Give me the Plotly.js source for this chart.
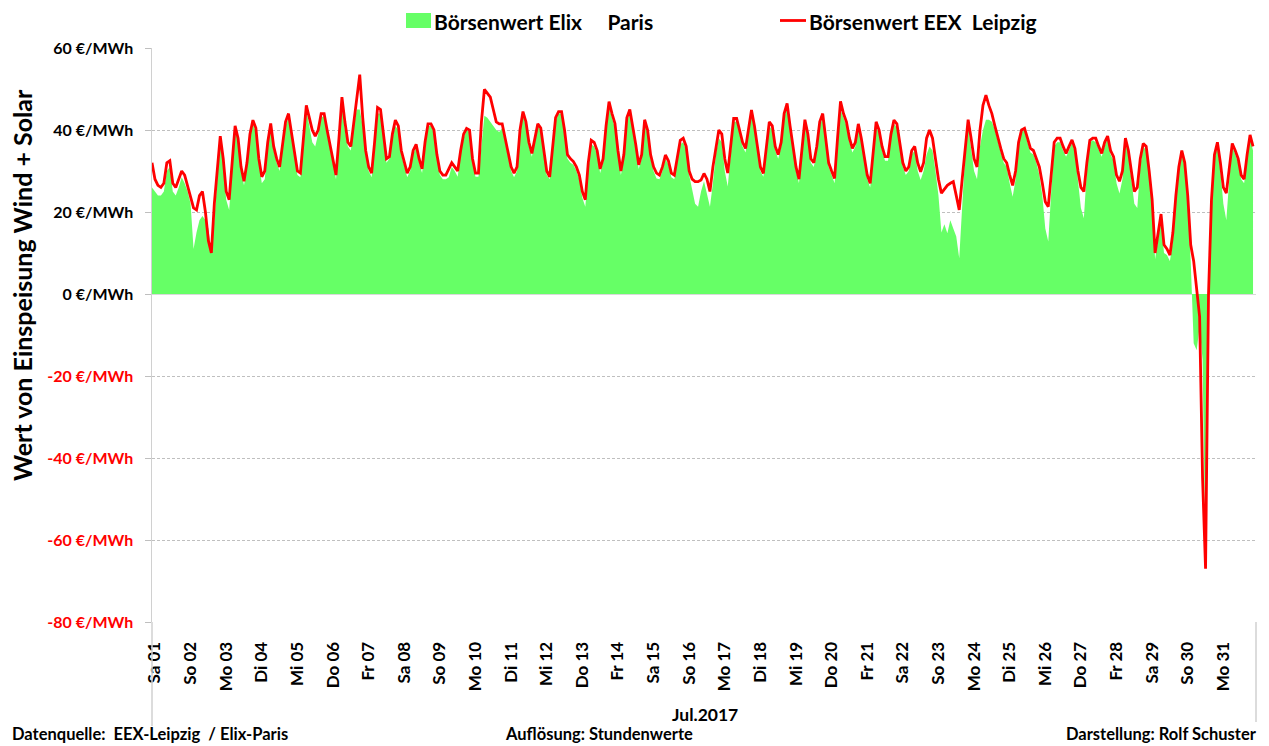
<!DOCTYPE html>
<html>
<head>
<meta charset="utf-8">
<script src="https://cdn.plot.ly/plotly-3.0.1.min.js"></script>
<style>
  html, body { margin: 0; padding: 0; background: #ffffff; }
  #chart { width: 1269px; height: 746px; }
</style>
</head>
<body>
<div id="chart"></div>
<script>
// ---- Data: July 2017, values every 2 hours (12 per day), EUR/MWh ----
const dayLabels = ['Sa 01','So 02','Mo 03','Di 04','Mi 05','Do 06','Fr 07','Sa 08','So 09','Mo 10',
  'Di 11','Mi 12','Do 13','Fr 14','Sa 15','So 16','Mo 17','Di 18','Mi 19','Do 20','Fr 21','Sa 22',
  'So 23','Mo 24','Di 25','Mi 26','Do 27','Fr 28','Sa 29','So 30','Mo 31'];

const hoursPerStep = 2;

// Börsenwert EEX Leipzig (red line)
const leipzig = [
  32, 28, 26.5, 26, 27, 32, 32.5, 27, 26, 28, 30, 29,
  26.5, 23.5, 21, 20.5, 24, 25, 20, 13, 10, 22, 30, 38.5,
  33, 25, 23, 33, 41, 38, 31, 27.5, 32, 39, 42.4, 40.5,
  33, 28.6, 30, 37, 41.6, 36, 33, 31, 36, 42, 44, 39,
  34, 30, 29.5, 38, 46, 43, 40, 38.5, 40, 44, 44, 40,
  36, 32, 29, 38, 48, 42, 37, 36, 42, 47, 53.5, 43,
  35, 31, 29.5, 37, 45.5, 45, 39, 33, 33.5, 39, 42.4, 41,
  35, 32, 29.5, 31, 35, 36.5, 33, 30.5, 37, 41.5, 41.5, 40,
  34, 30, 29, 29, 30.5, 32, 31, 30, 35, 39, 40.4, 40,
  33, 29.5, 29.5, 42, 49.9, 49, 48, 45, 42, 41.5, 41.5, 38,
  34, 31, 29.5, 31, 40, 44.5, 42, 37, 34.3, 38, 41.5, 40.5,
  35, 30, 28.6, 35, 43, 44.5, 44.5, 40, 34, 33, 32.3, 31,
  29, 25, 23, 32, 37.5, 37, 35, 30.5, 33, 41, 46.9, 44,
  41.6, 35, 30, 34, 43, 45, 41, 36.5, 31.5, 34, 42.5, 40,
  34, 31, 29.5, 29, 31, 33.9, 32.5, 29.5, 29, 33, 37.5, 38,
  36, 30, 28, 27.4, 27.4, 27.8, 29.4, 28, 25, 31, 36, 40,
  39, 33, 29.5, 36, 42.8, 42.8, 40, 37, 35.5, 40, 44.9, 41,
  36, 31, 29.4, 35, 42, 41, 36, 34, 37, 44, 46.5, 41,
  36, 31, 28, 35, 42.5, 39, 33, 32, 36, 42, 44, 38,
  32, 30, 28.2, 38, 47, 44, 42, 38, 35.5, 37, 41.5, 38,
  33, 29, 27, 35, 42, 40, 36, 33.5, 33.5, 39, 42.4, 41.5,
  37, 32, 30, 31, 35, 36, 32, 29.8, 32, 38, 40, 38,
  33, 28, 24.6, 25.5, 26.5, 27, 27.4, 24, 20.5, 28, 36, 42.5,
  38, 33, 31, 40, 46, 48.5, 46, 44, 41, 38, 35.5, 33,
  32, 29, 26.5, 30, 37, 40, 40.4, 38, 35.5, 35, 33, 31,
  27, 22.5, 21.3, 29, 37, 38, 38, 36, 34.3, 36, 37.6, 35.5,
  30, 26, 25, 32, 37.5, 38, 38, 36, 34.3, 37, 38.5, 35,
  33.5, 29, 27.5, 30, 38, 35, 30, 25, 26, 33, 36.7, 36,
  30, 23, 10, 15, 19.5, 12, 11, 9.5, 15, 24, 31, 35,
  32, 24, 12, 8, 2, -5.5, -45, -67, 0, 23, 34, 37,
  32, 26, 24.6, 31, 36.7, 35, 33, 29, 28, 34, 38.8, 36
];

// Börsenwert Elix Paris (green area)
const paris = [
  26, 25, 24, 24, 25, 30, 31, 25, 24, 26, 28.5, 27,
  25, 22, 11, 15, 18, 19, 18, 16, 10, 18, 29, 38,
  32, 23, 20.5, 31, 40.5, 37, 30, 26.5, 31, 38, 41.5, 39.5,
  32, 27, 28, 36, 41, 35, 32, 30, 35, 41, 43, 38,
  33, 29, 28.5, 36, 45, 41, 37, 36, 39, 43, 43.5, 39,
  35, 31, 28, 36, 46, 40, 36, 35, 41, 45, 45, 41,
  34, 30, 28.5, 35, 44, 44, 38, 32, 33, 38, 41, 40,
  34, 31, 28.5, 30, 34, 36, 32, 29.5, 36, 41, 41, 39.5,
  33, 29, 28, 28, 28.5, 31, 30, 28.6, 34, 38, 40, 39.5,
  32, 28.6, 28.6, 37, 43.5, 43, 42, 41, 40, 39.5, 40.5, 37,
  33, 30, 28.5, 30, 39, 43.5, 41, 36, 33.5, 37, 41, 40,
  34, 29, 28, 34, 42, 44, 44, 39, 33, 32, 31.5, 30,
  28, 23.5, 21.3, 30, 36.5, 36, 34, 29.5, 32, 40, 45.5, 43,
  40.5, 34, 29, 33, 42, 44, 40, 35.5, 30.5, 33, 41.5, 39,
  33, 30, 28.2, 28, 30, 33, 31.5, 28.5, 28, 32, 36.5, 37,
  35, 29, 25, 22, 21.3, 25, 27.5, 24, 21.3, 27, 34, 38,
  37, 30, 26.2, 34, 42, 42, 39, 36, 34.5, 39, 44, 40,
  35, 30, 28.6, 34, 41, 40, 35, 33, 36, 43, 45.5, 40,
  35, 30, 27, 34, 41.5, 38, 32, 31, 35, 41, 43, 37,
  31, 29, 27, 36, 45, 43, 41, 37, 34.5, 36, 40.5, 37,
  32, 28, 26, 34, 41, 39, 35, 32.5, 32.5, 38, 41.5, 40.5,
  36, 31, 29, 30, 34, 35, 30, 27.8, 30, 34, 36, 35,
  30, 24, 15, 17, 14.8, 18, 16, 14, 8.7, 20, 34, 41,
  36, 30, 28, 36, 40, 42.5, 42.5, 42, 40, 37, 34.5, 32,
  31, 27, 23.7, 28, 36, 39.5, 40, 37, 34.5, 34, 32, 29,
  24, 16, 12.8, 25, 36, 37, 37, 35, 33.5, 35, 37, 34.5,
  27, 21, 18.5, 30, 37, 37.5, 37, 35, 33.5, 36, 38, 34,
  32.5, 27, 24.5, 28, 37, 34, 28, 22, 21, 31, 36, 35,
  29, 21, 8.5, 13, 18, 10, 9.5, 8, 13, 22, 30, 34,
  31, 22, 8, -12, -13.7, -8, -16, -67, -5, 20, 33, 36,
  30, 22, 18, 28, 36, 34, 32, 28, 27, 33, 38, 35
];

const yTickVals = [60, 40, 20, 0, -20, -40, -60, -80];
const yTickLabels = ['60 €/MWh', '40 €/MWh', '20 €/MWh', '0 €/MWh', '-20 €/MWh', '-40 €/MWh', '-60 €/MWh', '-80 €/MWh'];

const seriesNames = ['Börsenwert Elix\u00a0\u00a0\u00a0\u00a0 Paris', 'Börsenwert EEX\u00a0 Leipzig'];
const footerTexts = ['Datenquelle:\u00a0 EEX-Leipzig\u00a0 / Elix-Paris', 'Auflösung: Stundenwerte', 'Darstellung: Rolf Schuster'];
const monthLabel = 'Jul.2017';
const yTitle = 'Wert von Einspeisung Wind + Solar';

// ---- Build ----
const hours = leipzig.map((_, i) => i * hoursPerStep);
const hoursParis = paris.map((_, i) => i * hoursPerStep);
const tickPos = dayLabels.map((_, d) => d * 24 + 2);
const yTickText = yTickVals.map((v, i) => v < 0 ? '<span style="color:#ff0000">' + yTickLabels[i] + '</span>' : yTickLabels[i]);

const W = 1269, H = 746;
const L = 152, R = 1256, T = 48, B = 622;
const px = p => (p - L) / (R - L);
const py = p => (B - p) / (B - T);

const FONT = 'Lato, "Open Sans", "DejaVu Sans", sans-serif';
const GREEN = '#66ff66';
const RED = '#ff0000';
const GRID = '#bfbfbf';

const traces = [
  {
    type: 'scatter', mode: 'lines', name: seriesNames[0],
    x: hoursParis, y: paris,
    fill: 'tozeroy', fillcolor: GREEN,
    line: { width: 0, color: 'rgba(0,0,0,0)' },
    showlegend: false, hoverinfo: 'skip'
  },
  {
    type: 'scatter', mode: 'lines', name: seriesNames[1],
    x: hours, y: leipzig,
    line: { width: 2.8, color: RED },
    showlegend: false, hoverinfo: 'skip'
  }
];

const layout = {
  width: W, height: H,
  margin: { l: L, r: W - R, t: T, b: H - B },
  paper_bgcolor: '#ffffff', plot_bgcolor: '#ffffff',
  font: { family: FONT, color: '#000000' },
  showlegend: false,
  xaxis: {
    range: [0, 744],
    tickmode: 'array', tickvals: tickPos, ticktext: dayLabels,
    tickangle: -90,
    tickfont: { family: FONT, size: 17, weight: 'bold', color: '#000000' },
    ticks: 'outside', ticklen: 12, tickcolor: 'rgba(0,0,0,0)',
    showgrid: false, zeroline: false, showline: false,
    fixedrange: true
  },
  yaxis: {
    range: [-80, 60],
    tickmode: 'array', tickvals: yTickVals, ticktext: yTickText,
    tickfont: { family: FONT, size: 16, weight: 'bold', color: '#000000' },
    ticks: 'outside', ticklen: 6, tickcolor: GRID, tickwidth: 1,
    ticklabelstandoff: 8,
    showgrid: true, gridcolor: GRID, griddash: '3px,2px', gridwidth: 1,
    zeroline: true, zerolinecolor: '#d9d9d9', zerolinewidth: 1,
    showline: true, linecolor: '#d0d0d0', linewidth: 1.5,
    fixedrange: true
  },
  shapes: [
    // category boundary lines below plot
    { type: 'line', xref: 'paper', yref: 'paper', x0: 0, x1: 0, y0: 0, y1: py(726), line: { color: '#d0d0d0', width: 1.5 } },
    { type: 'line', xref: 'paper', yref: 'paper', x0: 1, x1: 1, y0: 0, y1: py(722), line: { color: '#d0d0d0', width: 1.5 } },
    // legend symbols
    { type: 'rect', xref: 'paper', yref: 'paper', x0: px(406), x1: px(431), y0: py(28), y1: py(13), fillcolor: GREEN, line: { width: 0 } },
    { type: 'line', xref: 'paper', yref: 'paper', x0: px(780), x1: px(806), y0: py(20.5), y1: py(20.5), line: { color: RED, width: 2.8 } }
  ],
  annotations: [
    { xref: 'paper', yref: 'paper', x: px(432), y: py(21), xanchor: 'left', yanchor: 'middle', showarrow: false,
      text: seriesNames[0], font: { family: FONT, size: 21, weight: 'bold', color: '#000000' } },
    { xref: 'paper', yref: 'paper', x: px(807), y: py(21), xanchor: 'left', yanchor: 'middle', showarrow: false,
      text: seriesNames[1], font: { family: FONT, size: 21, weight: 'bold', color: '#000000' } },
    { xref: 'paper', yref: 'paper', x: px(22), y: py(285), xanchor: 'center', yanchor: 'middle', showarrow: false,
      textangle: -90, text: yTitle, font: { family: FONT, size: 25, weight: 'bold', color: '#000000' } },
    { xref: 'paper', yref: 'paper', x: px(705), y: py(714), xanchor: 'center', yanchor: 'middle', showarrow: false,
      text: monthLabel, font: { family: FONT, size: 17.5, weight: 'bold', color: '#000000' } },
    { xref: 'paper', yref: 'paper', x: px(10), y: py(734), xanchor: 'left', yanchor: 'middle', showarrow: false,
      text: footerTexts[0], font: { family: FONT, size: 16.5, weight: 'bold', color: '#000000' } },
    { xref: 'paper', yref: 'paper', x: px(503), y: py(734), xanchor: 'left', yanchor: 'middle', showarrow: false,
      text: footerTexts[1], font: { family: FONT, size: 16.5, weight: 'bold', color: '#000000' } },
    { xref: 'paper', yref: 'paper', x: px(1259), y: py(734), xanchor: 'right', yanchor: 'middle', showarrow: false,
      text: footerTexts[2], font: { family: FONT, size: 16.5, weight: 'bold', color: '#000000' } }
  ]
};

Plotly.newPlot('chart', traces, layout, { displayModeBar: false, staticPlot: true });
</script>
</body>
</html>
